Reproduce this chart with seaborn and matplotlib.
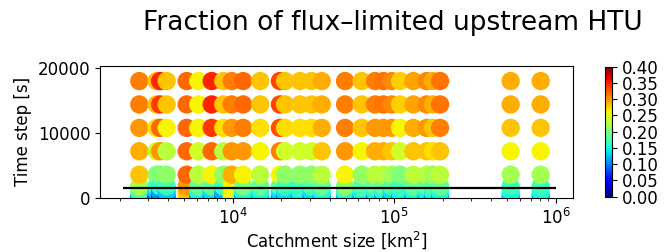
import seaborn as sns
import pandas as pd
import matplotlib
matplotlib.use("Agg")
from matplotlib import pyplot as plt
from matplotlib.colors import Normalize
from matplotlib.cm import ScalarMappable

# catchment sizes [km2]
area = [2640, 3380, 3550, 3900, 5190, 6120, 7410, 8750, 9860, 11600,
        14800, 19600, 21100, 26100, 30800, 35600, 49600, 62900, 76100, 85700,
        96600, 108700, 131400, 158800, 173800, 192300, 526000, 807000]

# time steps [s]
steps = [300, 900, 1800, 3600, 7200, 10800, 14400, 18000]

# fraction of flux-limited upstream HTU, one list per time step
f300 = [0.10, 0.06, 0.06, 0.09, 0.26, 0.10, 0.09, 0.08, 0.22, 0.11,
        0.12, 0.10, 0.09, 0.10, 0.10, 0.11, 0.12, 0.10, 0.10, 0.11,
        0.10, 0.10, 0.11, 0.11, 0.10, 0.11, 0.11, 0.11]
f900 = [0.18, 0.13, 0.11, 0.13, 0.28, 0.15, 0.14, 0.12, 0.25, 0.15,
        0.15, 0.14, 0.14, 0.15, 0.14, 0.15, 0.16, 0.15, 0.15, 0.15,
        0.14, 0.15, 0.15, 0.15, 0.15, 0.15, 0.15, 0.15]
f1800 = [0.22, 0.17, 0.16, 0.17, 0.30, 0.19, 0.19, 0.17, 0.26, 0.20,
         0.19, 0.19, 0.17, 0.17, 0.18, 0.19, 0.21, 0.18, 0.19, 0.19,
         0.18, 0.17, 0.19, 0.19, 0.18, 0.19, 0.17, 0.17]
f3600 = [0.28, 0.21, 0.20, 0.21, 0.32, 0.23, 0.26, 0.21, 0.29, 0.26,
         0.23, 0.26, 0.21, 0.21, 0.21, 0.23, 0.26, 0.21, 0.23, 0.23,
         0.22, 0.20, 0.23, 0.23, 0.22, 0.23, 0.22, 0.22]
f7200 = [0.29, 0.24, 0.30, 0.23, 0.32, 0.24, 0.32, 0.23, 0.30, 0.30,
         0.26, 0.31, 0.24, 0.24, 0.24, 0.28, 0.30, 0.26, 0.29, 0.29,
         0.28, 0.24, 0.28, 0.28, 0.27, 0.28, 0.26, 0.26]
f10800 = [0.30, 0.27, 0.32, 0.26, 0.32, 0.26, 0.34, 0.27, 0.30, 0.31,
          0.27, 0.33, 0.27, 0.27, 0.27, 0.29, 0.31, 0.28, 0.30, 0.30,
          0.30, 0.26, 0.29, 0.30, 0.28, 0.31, 0.28, 0.28]
f14400 = [0.31, 0.28, 0.34, 0.28, 0.32, 0.26, 0.35, 0.28, 0.31, 0.32,
          0.28, 0.335, 0.28, 0.28, 0.28, 0.29, 0.31, 0.28, 0.31, 0.315,
          0.305, 0.275, 0.295, 0.305, 0.29, 0.315, 0.29, 0.29]
f18000 = [0.31, 0.28, 0.35, 0.28, 0.32, 0.26, 0.35, 0.28, 0.31, 0.32,
          0.28, 0.335, 0.28, 0.28, 0.28, 0.29, 0.31, 0.28, 0.31, 0.315,
          0.305, 0.275, 0.295, 0.305, 0.29, 0.315, 0.29, 0.29]
fractions = [f300, f900, f1800, f3600, f7200, f10800, f14400, f18000]

rows = []
for i, a in enumerate(area):
    for j, t in enumerate(steps):
        rows.append({'area': a, 'step': t, 'frac': fractions[j][i]})
df = pd.DataFrame(rows)

sns.set_style("ticks")
plt.rcParams['font.family'] = ['DejaVu Sans']
plt.rcParams['text.color'] = 'black'
plt.rcParams['axes.labelcolor'] = 'black'
plt.rcParams['axes.edgecolor'] = 'black'
plt.rcParams['xtick.color'] = 'black'
plt.rcParams['ytick.color'] = 'black'

fig = plt.figure(figsize=(6.71, 2.52), dpi=100)
ax = fig.add_axes([0.149, 0.214, 0.705, 0.525])
cax = fig.add_axes([0.9017, 0.2194, 0.0104, 0.516])

jet = matplotlib.colormaps['jet']
norm = Normalize(0.0, 0.4)
sns.scatterplot(data=df, x='area', y='step', hue='frac', palette=jet,
                hue_norm=norm, s=175, linewidth=0, legend=False, ax=ax)
ax.set_xscale('log')
ax.hlines(1500, 2100, 1e6, color='black', lw=1.6, zorder=5)
ax.set_xlim(1507, 1.28e6)
ax.set_ylim(0, 20350)
ax.set_yticks([0, 10000, 20000])
ax.set_xticks([1e4, 1e5, 1e6])
ax.set_xlabel('Catchment size [km$^2$]', fontsize=12, labelpad=1)
ax.set_ylabel('Time step [s]', fontsize=12)
ax.tick_params(labelsize=12)

sm = ScalarMappable(norm=norm, cmap=jet)
cb = fig.colorbar(sm, cax=cax, ticks=[0.0, 0.05, 0.1, 0.15, 0.2, 0.25, 0.3, 0.35, 0.4])
cb.ax.set_yticklabels(['%.2f' % v for v in cb.get_ticks()])
cb.ax.tick_params(labelsize=12)

fig.text(0.586, 0.91, 'Fraction of flux\u2013limited upstream HTU', ha='center', va='center', fontsize=19)

fig.savefig('out.png', dpi=100)
